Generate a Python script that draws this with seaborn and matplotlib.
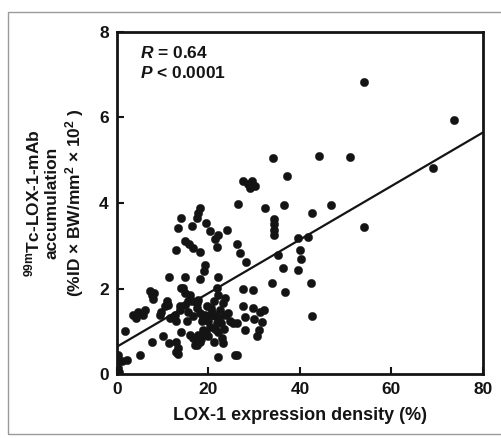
import numpy as np
import pandas as pd
import matplotlib
matplotlib.use("Agg")
import matplotlib.pyplot as plt
from matplotlib.patches import Rectangle
import seaborn as sns

sns.set_theme(style="ticks")
plt.rcParams["font.family"] = ["Liberation Sans", "DejaVu Sans"]
plt.rcParams["font.weight"] = "bold"
plt.rcParams["mathtext.fontset"] = "custom"
plt.rcParams["mathtext.rm"] = "Liberation Sans:bold"
plt.rcParams["mathtext.it"] = "Liberation Sans:bold:italic"
plt.rcParams["mathtext.bf"] = "Liberation Sans:bold"

# data: LOX-1 expression density (%) vs 99mTc-LOX-1-mAb accumulation
lox_density = [
    54.1, 73.7, 34.0, 44.2, 50.9, 37.1, 69.1, 54.0, 46.8, 42.7, 36.5, 32.3, 26.4,
    34.4, 34.4, 34.4, 34.4, 39.6, 41.8, 39.9, 40.3, 39.6, 36.3, 35.2, 33.8, 36.7,
    42.5, 42.7, 27.6, 28.7, 29.6, 30.2, 29.1,
    18.1, 17.8, 17.6, 14.1, 19.5, 16.3, 13.4, 20.3, 22.1, 24.0, 21.4, 21.8, 26.2,
    14.9, 15.8, 12.9, 16.7, 18.1, 26.9, 28.2, 19.2, 19.0, 11.4, 14.9, 18.1, 22.0,
    21.8, 14.1, 14.9, 7.2, 7.6, 7.9, 8.0, 27.6, 29.8, 23.6,
    10.9, 10.5, 13.8, 15.6, 17.4, 4.7, 5.7, 3.6, 6.2, 4.2, 9.4, 9.6, 11.6, 27.6,
    29.8, 31.3, 32.1, 28.0, 29.9, 31.6, 26.2, 28.0, 31.1, 30.5, 1.7, 7.6, 10.1,
    13.0, 13.4, 13.4, 16.0, 17.4, 17.8, 18.3, 22.1, 25.8, 5.0, 2.1, 0.2, 0.3, 0.3,
    0.5, 1.0,
    11.1, 12.7, 13.8, 14.9, 16.3, 17.4, 18.1, 18.9, 19.6, 20.7, 21.4, 22.5, 23.1,
    23.6, 21.8, 20.3, 18.9, 17.8, 16.7, 20.0, 21.1, 22.1, 22.9, 23.2, 15.2, 14.1,
    13.0, 18.5, 19.2, 16.7, 15.6, 21.1, 22.1, 17.8, 16.0, 14.5, 17.0, 18.1, 24.7,
    24.3, 25.4, 26.2, 11.4, 12.9, 19.8, 20.5, 22.8, 21.5, 19.5, 23.5, 20.2, 22.3,
]
accumulation = [
    6.82, 5.95, 5.06, 5.10, 5.08, 4.64, 4.83, 3.43, 3.95, 3.77, 3.95, 3.89, 3.97,
    3.62, 3.50, 3.38, 3.26, 3.18, 3.20, 2.91, 2.68, 2.44, 2.48, 2.79, 2.13, 1.93,
    2.13, 1.35, 4.51, 4.45, 4.51, 4.40, 4.36,
    3.89, 3.77, 3.65, 3.65, 3.54, 3.46, 3.42, 3.34, 3.26, 3.36, 3.17, 2.96, 3.04,
    3.10, 3.03, 2.89, 2.95, 2.85, 2.83, 2.61, 2.56, 2.42, 2.28, 2.26, 2.22, 2.28,
    2.01, 2.01, 1.89, 1.95, 1.85, 1.75, 1.90, 2.00, 1.97, 1.79,
    1.70, 1.58, 1.58, 1.70, 1.66, 1.46, 1.38, 1.38, 1.50, 1.30, 1.38, 1.46, 1.31,
    1.58, 1.54, 1.46, 1.50, 1.33, 1.29, 1.21, 1.19, 1.03, 1.03, 0.88, 1.01, 0.76,
    0.88, 0.76, 0.60, 0.48, 0.92, 0.68, 0.76, 0.83, 0.41, 0.45, 0.45, 0.33, 0.45,
    0.30, 0.15, 0.05, 0.30,
    1.62, 1.39, 1.50, 1.62, 1.70, 1.54, 1.42, 1.31, 1.58, 1.46, 1.35, 1.50, 1.66,
    1.39, 1.19, 1.11, 1.03, 0.92, 0.84, 0.88, 0.76, 0.99, 0.84, 0.72, 1.23, 0.99,
    1.23, 1.23, 1.39, 1.35, 1.46, 1.70, 1.85, 1.74, 1.85, 2.01, 0.68, 0.76, 1.23,
    1.42, 1.19, 0.45, 0.72, 0.52, 1.25, 1.55, 1.20, 1.05, 0.95, 1.05, 1.35, 1.30,
]

# regression line end points
fit_x = [0, 80]
fit_y = [0.64, 5.65]

x_ticks = [0, 20, 40, 60, 80]
y_ticks = [0, 2, 4, 6, 8]

df = pd.DataFrame({"density": lox_density, "accum": accumulation})
fit = pd.DataFrame({"x": fit_x, "y": fit_y})

fig = plt.figure(figsize=(5.01, 4.38), dpi=100)
fig.patch.set_facecolor("white")
ax = fig.add_axes([0.2335, 0.146, 0.7305, 0.781])
ax.set_facecolor("white")

sns.scatterplot(data=df, x="density", y="accum", ax=ax, s=36, color="#141414",
                edgecolor="#141414", linewidth=0.3, zorder=3)
sns.lineplot(data=fit, x="x", y="y", ax=ax, color="#141414", linewidth=1.6, zorder=2)

ax.set_xlim(0, 80)
ax.set_ylim(0, 8)
ax.set_xticks(x_ticks)
ax.set_yticks(y_ticks)
ax.tick_params(direction="in", length=5, width=1.5, labelsize=12.5, pad=6,
               colors="#141414", top=False, right=False)
for lab in ax.get_xticklabels() + ax.get_yticklabels():
    lab.set_fontweight("bold")
for sp in ax.spines.values():
    sp.set_visible(True)
    sp.set_linewidth(2)
    sp.set_color("#141414")

ax.set_xlabel("LOX-1 expression density (%)", fontsize=13, fontweight="bold",
              labelpad=7, color="#141414")
ax.set_ylabel("")

# y label as three rotated lines
ylab_lines = [r"$^{\mathrm{99m}}$Tc-LOX-1-mAb", "accumulation",
              r"(%ID × BW/mm$^{\mathrm{2}}$ × 10$^{\mathrm{2}}$ )"]
for xpos, line in zip([32, 52, 75], ylab_lines):
    fig.text(xpos / 501, 1 - 203 / 438, line, rotation=90, ha="center", va="center",
             fontsize=12.5, fontweight="bold", color="#141414")

ax.text(5.0, 7.5, r"$R$ = 0.64", fontsize=12.5, fontweight="bold", va="center",
        color="#141414")
ax.text(5.0, 7.03, r"$P$ < 0.0001", fontsize=12.5, fontweight="bold", va="center",
        color="#141414")

# faint scan frame around the figure
fig.patches.append(Rectangle((8 / 501, 4 / 438), 1.0, 1 - 16 / 438,
                             transform=fig.transFigure, fill=False,
                             edgecolor="#9a9a9a", linewidth=1))

fig.savefig("out.png", dpi=100)
